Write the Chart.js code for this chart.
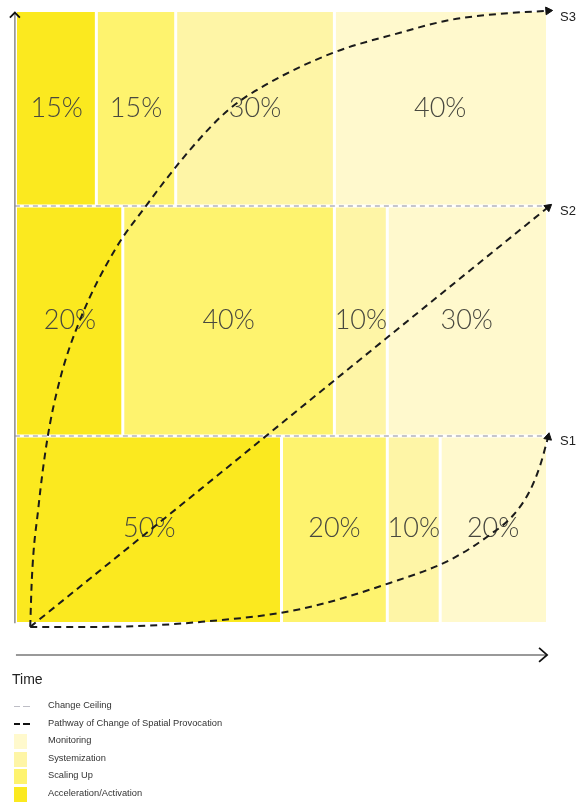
<!DOCTYPE html>
<html><head><meta charset="utf-8">
<script src="https://cdn.jsdelivr.net/npm/chart.js@4.4.0/dist/chart.umd.min.js"></script>
<style>
html,body{margin:0;padding:0;background:#fff;}
#wrap{position:relative;width:581px;height:802px;overflow:hidden;}
#chart{position:absolute;left:0;top:0;}
#time{position:absolute;left:12px;top:671px;font:14px "Liberation Sans",Arial,sans-serif;color:#222;}
.item{position:absolute;left:0;width:320px;height:16px;font:9.3px "Liberation Sans",Arial,sans-serif;color:#333;}
.sw{position:absolute;left:14px;top:0;width:13px;height:15px;}
.dash{position:absolute;}
.lbl{position:absolute;left:48px;top:1px;white-space:nowrap;}
</style></head>
<body>
<div id="wrap">
<canvas id="chart" width="581" height="802"></canvas>
<div id="time">Time</div>
<div id="legend"></div>
</div>
<script>
// ---- data ----
const rows = ['S1', 'S2', 'S3'];
const ceilings = [30.5, 68.2, 100];          // change ceiling level reached by each scenario
const phases = ['Acceleration/Activation', 'Scaling Up', 'Systemization', 'Monitoring'];
const acceleration = [50, 20, 15];
const scalingUp = [20, 40, 15];
const systemization = [10, 10, 30];
const monitoring = [20, 30, 40];
const phaseColors = ['#fbe91f', '#fef36e', '#fef5a6', '#fff9cd'];
// pathways of change (time, level)
const s1Time = [2.5, 15.7, 34.6, 53.5, 70.5, 81.9, 89.4, 93.8, 97.0, 98.9, 100.4];
const s1Level = [-0.8, -0.8, 0, 2.1, 6.4, 10.2, 14.3, 17.5, 21.6, 25.7, 30.3];
const s2Time = [2.5, 34.6, 59.7, 90.0, 100.4];
const s2Level = [-0.8, 21.7, 39.4, 60.7, 68.0];
const s3Time = [2.5, 2.8, 4.0, 5.7, 8.1, 11.9, 18.5, 24.2, 32.7, 39.9, 46.9, 59.7, 72.4, 81.9, 91.3, 100.4];
const s3Level = [-0.8, 6.9, 18.4, 29.8, 39.7, 49.5, 61.0, 68.0, 77.4, 83.9, 88.0, 93.3, 96.6, 98.7, 99.7, 100.2];
const legendLines = ['Change Ceiling', 'Pathway of Change of Spatial Provocation'];

const phaseValues = [acceleration, scalingUp, systemization, monitoring];
const bottoms = [0, ceilings[0], ceilings[1]];

const datasets = [];
const segs = [];
// pathways (top)
const paths = [[s1Time, s1Level, 12], [s2Time, s2Level, 51], [s3Time, s3Level, 86]];
paths.forEach(([t, l, rot], i) => {
  const n = t.length;
  datasets.push({
    label: 'path' + rows[i], order: 0, clip: false,
    data: t.map((x, k) => ({x, y: l[k]})),
    borderColor: '#1b1b1b', borderWidth: 2, borderDash: [7, 5],
    cubicInterpolationMode: 'monotone', fill: false,
    pointRadius: c => c.dataIndex === n - 1 ? 4.5 : 0,
    pointStyle: 'triangle', pointRotation: rot,
    pointBackgroundColor: '#111', pointBorderColor: '#111', pointBorderWidth: 1
  });
});
// change ceilings (S1, S2)
[0, 1].forEach(i => {
  datasets.push({label: 'ceil' + i, order: 1, clip: false,
    data: [{x: -0.4, y: ceilings[i]}, {x: 100.4, y: ceilings[i]}],
    borderColor: '#b3b3bd', borderWidth: 1.5, borderDash: [5, 4], pointRadius: 0, fill: false});
  datasets.push({label: 'gap' + i, order: 1.5, clip: false,
    data: [{x: 0, y: ceilings[i]}, {x: 100, y: ceilings[i]}],
    borderColor: '#ffffff', borderWidth: 3, pointRadius: 0, fill: false});
});
// separators between phases
const sepData = [];
rows.forEach((r, ri) => {
  let s = 0;
  phaseValues.forEach((arr, pi) => {
    const v = arr[ri];
    segs.push({ri, pi, start: s, end: s + v, bottom: bottoms[ri], top: ceilings[ri], v});
    s += v;
    if (pi < phaseValues.length - 1) {
      sepData.push({x: s, y: bottoms[ri]}, {x: s, y: ceilings[ri]}, {x: s, y: null});
    }
  });
});
datasets.push({label: 'sep', order: 2, data: sepData, borderColor: '#ffffff', borderWidth: 3,
  pointRadius: 0, fill: false, spanGaps: false, tension: 0});
// phase blocks
segs.forEach(sg => {
  datasets.push({label: phases[sg.pi] + ' ' + rows[sg.ri], order: 3,
    data: [{x: sg.start, y: sg.top}, {x: sg.end, y: sg.top}],
    fill: {value: sg.bottom}, backgroundColor: phaseColors[sg.pi],
    borderColor: 'rgba(0,0,0,0)', borderWidth: 0, pointRadius: 0, tension: 0});
});

const decor = {
  id: 'decor',
  afterDatasetDraw(chart, args) {
    if (chart.data.datasets[args.index].label !== 'sep') return;
    const {ctx, scales: {x, y}} = chart;
    ctx.save();
    ctx.font = '300 27px Lato, Roboto, "Liberation Sans", sans-serif';
    ctx.fillStyle = '#48483f';
    ctx.textAlign = 'center'; ctx.textBaseline = 'middle';
    segs.forEach(sg => {
      ctx.fillText(sg.v + '%', x.getPixelForValue((sg.start + sg.end) / 2), y.getPixelForValue((sg.bottom + sg.top) / 2) - 1);
    });
    ctx.restore();
  },
  afterDraw(chart) {
    const {ctx, scales: {x, y}} = chart;
    ctx.save();
    // y axis
    const ax = x.getPixelForValue(-0.4);
    ctx.strokeStyle = '#8a8a8a'; ctx.lineWidth = 1.5;
    ctx.beginPath(); ctx.moveTo(ax, y.getPixelForValue(-0.2)); ctx.lineTo(ax, y.getPixelForValue(99.8)); ctx.stroke();
    const ty = y.getPixelForValue(99.9);
    ctx.strokeStyle = '#111'; ctx.lineWidth = 1.8;
    ctx.beginPath(); ctx.moveTo(ax - 5, ty + 5); ctx.lineTo(ax, ty); ctx.lineTo(ax + 5, ty + 5); ctx.stroke();
    // x axis (time)
    const ay = y.getPixelForValue(-5.4);
    const xe = x.getPixelForValue(100.2);
    ctx.strokeStyle = '#777'; ctx.lineWidth = 1.5;
    ctx.beginPath(); ctx.moveTo(x.getPixelForValue(-0.2), ay); ctx.lineTo(xe, ay); ctx.stroke();
    ctx.strokeStyle = '#111'; ctx.lineWidth = 1.8;
    ctx.beginPath(); ctx.moveTo(xe - 8, ay - 7); ctx.lineTo(xe, ay); ctx.lineTo(xe - 8, ay + 7); ctx.stroke();
    // scenario labels
    ctx.font = '13px "Liberation Sans", Arial, sans-serif';
    ctx.fillStyle = '#222'; ctx.textAlign = 'left'; ctx.textBaseline = 'middle';
    rows.forEach((r, i) => ctx.fillText(r, x.getPixelForValue(100) + 14, y.getPixelForValue(ceilings[i]) + 5));
    ctx.restore();
  }
};

new Chart(document.getElementById('chart'), {
  type: 'line',
  data: {datasets},
  options: {
    responsive: false, animation: false, events: [],
    layout: {padding: {left: 17, right: 35, top: 12, bottom: 180}},
    scales: {
      x: {type: 'linear', min: 0, max: 100, display: false},
      y: {type: 'linear', min: 0, max: 100, display: false}
    },
    plugins: {legend: {display: false}, tooltip: {enabled: false}}
  },
  plugins: [decor]
});

// legend (html)
const legend = document.getElementById('legend');
const names = legendLines.concat(phases.slice().reverse());
const cols = phaseColors.slice().reverse();
names.forEach((nm, i) => {
  const it = document.createElement('div');
  it.className = 'item';
  it.style.top = (699 + i * 17.6) + 'px';
  if (i < 2) {
    const c = i === 0 ? '#bdbdc5' : '#111';
    const h = i === 0 ? 1.2 : 2.2;
    [[14, 6], [23, 7]].forEach(([l, w]) => {
      const d = document.createElement('div');
      d.className = 'dash';
      d.style.cssText = `left:${l}px;top:${7.5 - h / 2}px;width:${w}px;height:${h}px;background:${c}`;
      it.appendChild(d);
    });
  } else {
    const s = document.createElement('div');
    s.className = 'sw'; s.style.background = cols[i - 2];
    it.appendChild(s);
  }
  const t = document.createElement('div');
  t.className = 'lbl'; t.textContent = nm;
  it.appendChild(t);
  legend.appendChild(it);
});
</script>
</body></html>
